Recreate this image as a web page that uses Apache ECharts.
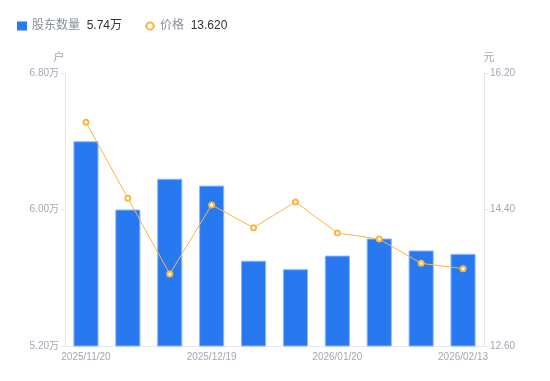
<!DOCTYPE html>
<html><head><meta charset="utf-8">
<script src="https://cdn.jsdelivr.net/npm/echarts@6/dist/echarts.min.js"></script>
<style>html,body{margin:0;padding:0;background:#fff}#c{width:550px;height:381px}</style>
</head><body><div id="c"></div>
<script>
const dates = ['2025/11/20','2025/11/28','2025/12/10','2025/12/19','2025/12/31','2026/01/09','2026/01/20','2026/01/30','2026/02/10','2026/02/13'];
const holders = [6.40, 6.00, 6.18, 6.14, 5.70, 5.65, 5.73, 5.83, 5.76, 5.74];
const prices = [15.55, 14.55, 13.55, 14.46, 14.16, 14.50, 14.09, 14.01, 13.69, 13.62];
const leftTicks = {min: 5.2, max: 6.8, interval: 0.8};
const rightTicks = {min: 12.6, max: 16.2, interval: 1.8};

const chart = echarts.init(document.getElementById('c'));
const font = '"Liberation Sans", "Noto Sans CJK SC", sans-serif';
const lastH = holders[holders.length-1].toFixed(2) + '万';
const lastP = prices[prices.length-1].toFixed(3);
chart.setOption({
  animation: false,
  textStyle: {fontFamily: font},
  legend: {
    left: 12, top: 15, itemGap: 22, itemWidth: 10, itemHeight: 9,
    data: [
      {name: '股东数量', icon: 'rect', itemStyle: {borderWidth: 0, color: '#2878f0'}},
      {name: '价格'}
    ],
    formatter: function (n) {
      return n === '股东数量' ? '{a|' + n + '}  {b|' + lastH + '}' : '{a|' + n + '}  {b|' + lastP + '}';
    },
    textStyle: {
      rich: {
        a: {color: '#8a8f9c', fontSize: 12, fontFamily: font},
        b: {color: '#333', fontSize: 12, fontFamily: font}
      }
    }
  },
  grid: {left: 65, right: 66, top: 73, bottom: 35},
  xAxis: {
    type: 'category', data: dates,
    axisLine: {lineStyle: {color: '#e6e6e6'}},
    axisTick: {show: false},
    axisLabel: {color: '#a3a7b3', fontSize: 10, interval: 2, margin: 6, fontFamily: font}
  },
  yAxis: [
    {
      type: 'value', min: leftTicks.min, max: leftTicks.max, interval: leftTicks.interval,
      name: '户', nameTextStyle: {color: '#a3a7b3', fontSize: 11, padding: [0, 12, 0, 0]}, nameGap: 10,
      axisLine: {show: true, lineStyle: {color: '#e6e6e6'}},
      axisTick: {show: true, length: 4, lineStyle: {color: '#e6e6e6'}},
      splitLine: {show: false},
      axisLabel: {color: '#a3a7b3', fontSize: 10, margin: 6, fontFamily: font, formatter: v => v.toFixed(2) + '万'}
    },
    {
      type: 'value', min: rightTicks.min, max: rightTicks.max, interval: rightTicks.interval,
      name: '元', nameTextStyle: {color: '#a3a7b3', fontSize: 11, padding: [0, 0, 0, 10]}, nameGap: 10,
      position: 'right',
      axisLine: {show: true, lineStyle: {color: '#e6e6e6'}},
      axisTick: {show: true, length: 4, lineStyle: {color: '#e6e6e6'}},
      splitLine: {show: false},
      axisLabel: {color: '#a3a7b3', fontSize: 10, margin: 6, fontFamily: font, formatter: v => v.toFixed(2)}
    }
  ],
  series: [
    {
      name: '股东数量', type: 'bar', data: holders, barWidth: '60%', yAxisIndex: 0,
      itemStyle: {color: '#2878f0', borderColor: '#8db8fa', borderWidth: 1}
    },
    {
      name: '价格', type: 'line', data: prices, yAxisIndex: 1,
      symbol: 'emptyCircle', symbolSize: 5,
      lineStyle: {color: '#f8b841', width: 1},
      itemStyle: {color: '#f8b841', borderWidth: 2}
    }
  ]
});
</script></body></html>
